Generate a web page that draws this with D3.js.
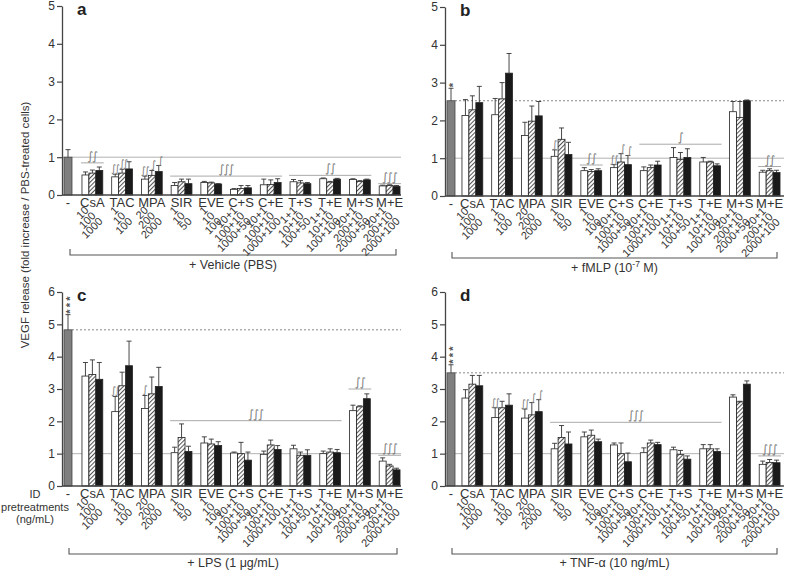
<!DOCTYPE html>
<html><head><meta charset="utf-8">
<script src="https://cdn.jsdelivr.net/npm/d3@7"></script>
<style>
body{margin:0;background:#fff}
svg{display:block}
text{font-family:"Liberation Sans",Arial,Helvetica,sans-serif;fill:#333}
.sig{font-family:"DejaVu Sans","Liberation Sans",sans-serif;fill:#7a7a7a}
</style>
</head><body>
<svg id="chart" width="789" height="572"></svg>
<script>
// ---------------- DATA ----------------
const groups = ["CsA","TAC","MPA","SIR","EVE","C+S","C+E","T+S","T+E","M+S","M+E"];
const doses = [
  ["10","100","1000"],["1","10","100"],["20","200","2000"],["1","10","50"],["1","10","100"],
  ["10+1","100+10","1000+50"],["10+1","100+10","1000+100"],["1+1","10+10","100+50"],
  ["1+1","10+10","100+100"],["20+1","200+10","2000+50"],["20+1","200+10","2000+100"]
];
const ticksAB = [0,1,2,3,4,5];
const ticksCD = [0,1,2,3,4,5,6];

// Panel a : + Vehicle (PBS)
const ctrlA = [1.0, 0.2];
const valsA = [[0.53,0.58,0.65],[0.48,0.58,0.69],[0.42,0.52,0.62],[0.25,0.35,0.30],[0.33,0.32,0.29],
  [0.15,0.17,0.19],[0.27,0.28,0.33],[0.35,0.32,0.30],[0.43,0.34,0.42],[0.41,0.36,0.40],[0.24,0.25,0.23]];
const errsA = [[0.08,0.08,0.09],[0.07,0.10,0.19],[0.08,0.13,0.16],[0.08,0.07,0.12],[0.03,0.02,0.01],
  [0.02,0.08,0.06],[0.15,0.12,0.10],[0.06,0.06,0.03],[0.02,0.02,0.02],[0.02,0.02,0.02],[0.02,0.02,0.02]];
const sigLinesA = [["CsA","CsA",0.85,"∫∫"],["SIR","C+E",0.50,"∫∫∫"],["T+S","M+S",0.52,"∫∫"],["M+E","M+E",0.30,"∫∫∫"]];
const sigBarsA = [["TAC",0,"∫∫"],["TAC",1,"∫∫"],["MPA",0,"∫∫"],["MPA",1,"∫"],["MPA",2,"∫"]];

// Panel b : + fMLP
const ctrlB = [2.52, 0.33];
const valsB = [[2.13,2.28,2.47],[2.15,2.57,3.25],[1.60,1.98,2.12],[1.05,1.50,1.10],[0.67,0.65,0.67],
  [0.75,0.90,0.83],[0.67,0.75,0.82],[1.02,0.97,1.02],[0.90,0.90,0.80],[2.23,2.08,2.52],[0.63,0.67,0.62]];
const errsB = [[0.42,0.37,0.43],[0.43,0.43,0.52],[0.35,0.40,0.38],[0.17,0.30,0.32],[0.08,0.05,0.05],
  [0.08,0.22,0.24],[0.10,0.07,0.10],[0.26,0.18,0.23],[0.12,0.02,0.05],[0.27,0.42,0.02],[0.05,0.05,0.06]];
const sigLinesB = [["EVE","EVE",0.82,"∫∫"],["C+E","T+E",1.37,"∫"],["M+E","M+E",0.78,"∫∫"]];
const sigBarsB = [["SIR",0,"∫"],["C+S",0,"∫∫"],["C+S",1,"∫"],["C+S",2,"∫"]];

// Panel c : + LPS
const ctrlC = [4.83, 0.47];
const valsC = [[3.40,3.45,3.30],[2.30,3.10,3.72],[2.40,2.85,3.08],[1.03,1.50,1.07],[1.33,1.30,1.25],
  [1.02,1.00,0.80],[0.98,1.27,1.13],[1.15,0.95,0.95],[1.00,1.05,1.03],[2.33,2.45,2.70],[0.77,0.62,0.50]];
const errsC = [[0.42,0.45,0.52],[0.47,0.42,0.76],[0.40,0.52,0.59],[0.17,0.42,0.16],[0.19,0.15,0.12],
  [0.03,0.35,0.25],[0.10,0.15,0.12],[0.11,0.10,0.17],[0.08,0.10,0.10],[0.17,0.03,0.15],[0.10,0.05,0.05]];
const sigLinesC = [["SIR","T+E",2.02,"∫∫∫"],["M+S","M+S",3.0,"∫∫"],["M+E","M+E",0.95,"∫∫∫"]];
const sigBarsC = [["TAC",0,"∫∫"],["MPA",0,"∫"]];

// Panel d : + TNF-alpha
const ctrlD = [3.50, 0.25];
const valsD = [[2.72,3.15,3.10],[2.12,2.42,2.50],[2.10,2.20,2.30],[1.15,1.50,1.30],[1.52,1.57,1.37],
  [1.27,1.00,0.75],[1.03,1.33,1.28],[1.12,0.97,0.83],[1.15,1.15,1.07],[2.75,2.60,3.15],[0.67,0.73,0.72]];
const errsD = [[0.26,0.27,0.32],[0.30,0.20,0.35],[0.28,0.38,0.37],[0.17,0.37,0.37],[0.15,0.16,0.08],
  [0.06,0.33,0.27],[0.15,0.09,0.07],[0.08,0.13,0.10],[0.13,0.13,0.08],[0.07,0.02,0.10],[0.10,0.09,0.08]];
const sigLinesD = [["SIR","T+E",1.97,"∫∫∫"],["M+E","M+E",0.93,"∫∫∫"]];
const sigBarsD = [["TAC",0,"∫∫"],["MPA",0,"∫∫"],["MPA",1,"∫"],["MPA",2,"∫"]];

// ---------------- DRAW ----------------
const svg = d3.select("#chart");
const defs = svg.append("defs");
const pat = defs.append("pattern").attr("id","hatch").attr("patternUnits","userSpaceOnUse")
  .attr("width",3).attr("height",3).attr("patternTransform","rotate(45)");
pat.append("rect").attr("width",3).attr("height",3).attr("fill","#fff");
pat.append("line").attr("x1",0.5).attr("y1",0).attr("x2",0.5).attr("y2",3).attr("stroke","#555").attr("stroke-width",1.1);

const panels = [
  {id:"a", vals:valsA, errs:errsA, ctrl:ctrlA, ticks:ticksAB, lines:sigLinesA, marks:sigBarsA, stars:"", dotted:false,
   geo:{x0:62, y0:195, yTop:6, bandOff:17, br:[8,334,60,14]}},
  {id:"b", vals:valsB, errs:errsB, ctrl:ctrlB, ticks:ticksAB, lines:sigLinesB, marks:sigBarsB, stars:"*", dotted:true,
   geo:{x0:445, y0:196, yTop:7, bandOff:14, br:[7,332,62,14]}},
  {id:"c", vals:valsC, errs:errsC, ctrl:ctrlC, ticks:ticksCD, lines:sigLinesC, marks:sigBarsC, stars:"***", dotted:true,
   geo:{x0:62, y0:486, yTop:292, bandOff:17, br:[7,335,68,13]}},
  {id:"d", vals:valsD, errs:errsD, ctrl:ctrlD, ticks:ticksCD, lines:sigLinesD, marks:sigBarsD, stars:"***", dotted:true,
   geo:{x0:445, y0:486, yTop:292, bandOff:14, br:[7,332,68,13]}}
];
const conditions = {a:"+ Vehicle (PBS)", c:"+ LPS (1 μg/mL)", d:"+ TNF-α (10 ng/mL)"};

panels.forEach(p => {
  const G = p.geo;
  const g = svg.append("g");
  const yMax = d3.max(p.ticks);
  const y = d3.scaleLinear().domain([0,yMax]).range([G.y0, G.yTop]);
  const xEnd = G.x0 + 339;
  const xb = d3.scaleBand().domain(groups).range([G.x0+G.bandOff, G.x0+G.bandOff+324])
    .paddingInner(0.3).paddingOuter(0.1);
  const bw = xb.bandwidth()/3;
  const ctrlX = G.x0 + 2, ctrlW = 8;

  // reference line at 1
  g.append("line").attr("x1",G.x0).attr("x2",xEnd).attr("y1",y(1)).attr("y2",y(1))
    .attr("stroke","#b3b3b3").attr("stroke-width",1);
  if (p.dotted) {
    g.append("line").attr("x1",ctrlX+ctrlW).attr("x2",xEnd).attr("y1",y(p.ctrl[0])).attr("y2",y(p.ctrl[0]))
      .attr("stroke","#888").attr("stroke-width",1).attr("stroke-dasharray","2,2");
  }
  // significance lines
  p.lines.forEach(([g1,g2,v,lab]) => {
    const xa = xb(g1)-1, xz = xb(g2)+xb.bandwidth()+1;
    g.append("line").attr("x1",xa).attr("x2",xz).attr("y1",y(v)).attr("y2",y(v))
      .attr("stroke","#aaa").attr("stroke-width",1);
    g.append("text").attr("class","sig").attr("x",(xa+xz)/2).attr("y",y(v)-3).attr("text-anchor","middle")
      .attr("font-size",11.5).attr("letter-spacing",-1).text(lab);
  });

  // control bar
  g.append("rect").attr("x",ctrlX).attr("y",y(p.ctrl[0])).attr("width",ctrlW).attr("height",y(0)-y(p.ctrl[0]))
    .attr("fill","#7f7f7f").attr("stroke","#444").attr("stroke-width",0.8);
  const cx = ctrlX+ctrlW/2;
  const ctop = y(p.ctrl[0]+p.ctrl[1]);
  g.append("line").attr("x1",cx).attr("x2",cx).attr("y1",y(p.ctrl[0])).attr("y2",ctop)
    .attr("stroke","#333").attr("stroke-width",0.9);
  g.append("line").attr("x1",cx-2.5).attr("x2",cx+2.5).attr("y1",ctop).attr("y2",ctop)
    .attr("stroke","#333").attr("stroke-width",0.9);
  if (p.stars) {
    // stars stacked vertically (single text, rotated)
    g.append("text").attr("transform",`translate(${cx},${ctop-1})rotate(-90)`)
      .attr("y",6.3).attr("font-size",11).attr("font-weight","bold").attr("letter-spacing",2.2)
      .style("fill","#555").text(p.stars);
  }

  // bars
  const fills = ["#fff","url(#hatch)","#1a1a1a"];
  groups.forEach((grp, gi) => {
    p.vals[gi].forEach((v, bi) => {
      const x = xb(grp) + bi*bw;
      const e = p.errs[gi][bi];
      const mx = x + bw/2;
      g.append("line").attr("x1",mx).attr("x2",mx).attr("y1",y(v)).attr("y2",y(v+e))
        .attr("stroke","#333").attr("stroke-width",0.9);
      g.append("line").attr("x1",mx-2.5).attr("x2",mx+2.5).attr("y1",y(v+e)).attr("y2",y(v+e))
        .attr("stroke","#333").attr("stroke-width",0.9);
      g.append("rect").attr("x",x).attr("y",y(v)).attr("width",bw).attr("height",y(0)-y(v))
        .attr("fill",fills[bi]).attr("stroke","#222").attr("stroke-width",0.8);
      // dose label
      g.append("text").attr("transform",`translate(${mx+4},${G.y0+16+bi*5.5})rotate(-45)`)
        .attr("text-anchor","end").attr("font-size",11).text(doses[gi][bi]);
    });
    g.append("text").attr("x",xb(grp)+xb.bandwidth()/2).attr("y",G.y0+12).attr("text-anchor","middle")
      .attr("font-size",13).text(grp);
  });
  g.append("text").attr("x",cx).attr("y",G.y0+12).attr("text-anchor","middle").attr("font-size",13).text("-");

  // per-bar significance marks
  p.marks.forEach(([grp,bi,lab]) => {
    const mx = xb(grp) + bi*bw + bw/2;
    const gi = groups.indexOf(grp);
    const top = p.vals[gi][bi] + p.errs[gi][bi];
    g.append("text").attr("class","sig").attr("x",mx + (bi>0 ? 1 : -0.5)).attr("y",y(top)-2).attr("text-anchor","middle")
      .attr("font-size",10).attr("letter-spacing",-1.5).text(lab);
  });

  // baseline
  g.append("line").attr("x1",G.x0).attr("x2",xEnd).attr("y1",y(0)).attr("y2",y(0))
    .attr("stroke","#444").attr("stroke-width",1.3);
  // y axis
  const ax = g.append("g").attr("transform",`translate(${G.x0},0)`)
    .call(d3.axisLeft(y).tickValues(p.ticks).tickFormat(d3.format("d")).tickSize(5).tickSizeOuter(0).tickPadding(2));
  ax.select(".domain").attr("stroke","#444").attr("stroke-width",1.3);
  ax.selectAll(".tick line").attr("stroke","#444").attr("stroke-width",1.2);
  ax.selectAll(".tick text").attr("font-size",12).attr("font-family","Liberation Sans, Arial, sans-serif").style("fill","#333");

  // panel letter
  g.append("text").attr("x",G.x0+15).attr("y",G.yTop+9).attr("font-size",17).attr("font-weight","bold")
    .style("fill","#222").text(p.id);

  // bracket
  const [b1,b2,bo,lo] = G.br;
  const by = G.y0 + bo;
  g.append("path").attr("d",`M${G.x0+b1},${by-6}V${by}H${G.x0+b2}V${by-6}`)
    .attr("fill","none").attr("stroke","#555").attr("stroke-width",1.1);
  const lab = g.append("text").attr("x",G.x0+(b1+b2)/2).attr("y",by+lo).attr("text-anchor","middle").attr("font-size",12.5);
  if (p.id === "b") {
    lab.append("tspan").text("+ fMLP (10");
    lab.append("tspan").attr("dy",-5).attr("font-size",8.5).text("-7");
    lab.append("tspan").attr("dy",5).text(" M)");
  } else {
    lab.text(conditions[p.id]);
  }
});

// y title
svg.append("text").attr("transform","translate(29,225) rotate(-90)").attr("text-anchor","middle")
  .attr("font-size",11.5).text("VEGF release (fold increase / PBS-treated cells)");

// ID pretreatments
const idl = svg.append("text").attr("text-anchor","middle").attr("font-size",11);
["ID","pretreatments","(ng/mL)"].forEach((t,i)=>{
  idl.append("tspan").attr("x",35).attr("y",498+i*12.5).text(t);
});
</script>
</body></html>
